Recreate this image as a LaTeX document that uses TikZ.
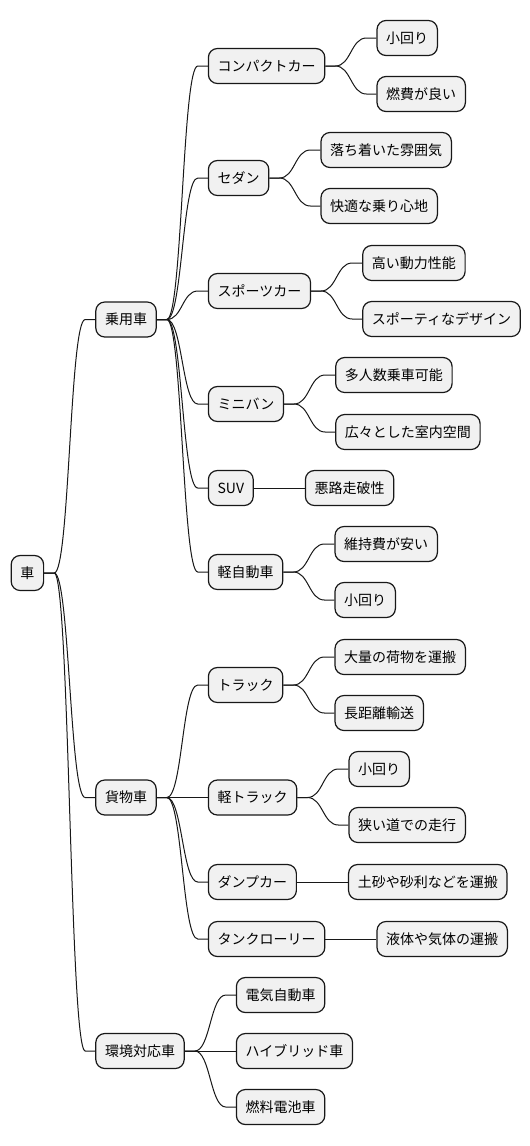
\documentclass[tikz,border=0pt]{standalone}
\usepackage{fontspec}
\setmainfont{Noto Sans CJK JP}
\usetikzlibrary{calc}
\definecolor{boxfill}{HTML}{F1F1F1}
\definecolor{ink}{HTML}{181818}
\tikzset{
  box/.style={draw=ink, fill=boxfill, line width=1.2bp, rounded corners=9bp,
    minimum height=35bp, inner xsep=9.2bp, inner ysep=0pt,
    font=\fontsize{14bp}{16bp}\selectfont, text=black},
  edge/.style={draw=ink, line width=1bp},
}
\newcommand{\mmnode}[4]{\path let \p1=(#1.east) in node[box,anchor=west] (#2) at ({\x1+51bp},{-#3bp}) {#4};}
\newcommand{\mmconn}[2]{\draw[edge] let \p1=(#1.east), \p2=(#2.west) in (\p1) -- ({\x1+10bp},\y1) .. controls ({0.5*\x1+0.5*\x2},\y1) and ({0.5*\x1+0.5*\x2},\y2) .. ({\x2-10bp},\y2) -- (\p2);}
\begin{document}
\begin{tikzpicture}[x=1bp,y=-1bp]
\useasboundingbox[fill=white] (0,0) rectangle (530,1146);
\node[box,anchor=west] (ku) at (10.6,573) {車};
% level 1
\mmnode{ku}{jo}{319.5}{乗用車}
\mmnode{ku}{ka}{797.5}{貨物車}
\mmnode{ku}{ka2}{1051}{環境対応車}
% passenger cars
\mmnode{jo}{cc}{66}{コンパクトカー}
\mmnode{jo}{se}{178}{セダン}
\mmnode{jo}{sp}{291}{スポーツカー}
\mmnode{jo}{mv}{404}{ミニバン}
\mmnode{jo}{suv}{488}{SUV}
\mmnode{jo}{kj}{572}{軽自動車}
\mmnode{cc}{cc1}{38}{小回り}
\mmnode{cc}{cc2}{94}{燃費が良い}
\mmnode{se}{se1}{150}{落ち着いた雰囲気}
\mmnode{se}{se2}{206}{快適な乗り心地}
\mmnode{sp}{sp1}{263}{高い動力性能}
\mmnode{sp}{sp2}{319}{スポーティなデザイン}
\mmnode{mv}{mv1}{375}{多人数乗車可能}
\mmnode{mv}{mv2}{432}{広々とした室内空間}
\mmnode{suv}{suv1}{488}{悪路走破性}
\mmnode{kj}{kj1}{544}{維持費が安い}
\mmnode{kj}{kj2}{600}{小回り}
% cargo
\mmnode{ka}{tr}{685}{トラック}
\mmnode{ka}{kt}{797.5}{軽トラック}
\mmnode{ka}{dp}{882}{ダンプカー}
\mmnode{ka}{tl}{939}{タンクローリー}
\mmnode{tr}{tr1}{657}{大量の荷物を運搬}
\mmnode{tr}{tr2}{713}{長距離輸送}
\mmnode{kt}{kt1}{769}{小回り}
\mmnode{kt}{kt2}{825}{狭い道での走行}
\mmnode{dp}{dp1}{882}{土砂や砂利などを運搬}
\mmnode{tl}{tl1}{939}{液体や気体の運搬}
% eco
\mmnode{ka2}{ev}{995}{電気自動車}
\mmnode{ka2}{hv}{1051}{ハイブリッド車}
\mmnode{ka2}{fc}{1107}{燃料電池車}
% connectors
\mmconn{ku}{jo}\mmconn{ku}{ka}\mmconn{ku}{ka2}
\mmconn{jo}{cc}\mmconn{jo}{se}\mmconn{jo}{sp}\mmconn{jo}{mv}\mmconn{jo}{suv}\mmconn{jo}{kj}
\mmconn{cc}{cc1}\mmconn{cc}{cc2}
\mmconn{se}{se1}\mmconn{se}{se2}
\mmconn{sp}{sp1}\mmconn{sp}{sp2}
\mmconn{mv}{mv1}\mmconn{mv}{mv2}
\mmconn{suv}{suv1}
\mmconn{kj}{kj1}\mmconn{kj}{kj2}
\mmconn{ka}{tr}\mmconn{ka}{kt}\mmconn{ka}{dp}\mmconn{ka}{tl}
\mmconn{tr}{tr1}\mmconn{tr}{tr2}
\mmconn{kt}{kt1}\mmconn{kt}{kt2}
\mmconn{dp}{dp1}
\mmconn{tl}{tl1}
\mmconn{ka2}{ev}\mmconn{ka2}{hv}\mmconn{ka2}{fc}
\end{tikzpicture}
\end{document}
